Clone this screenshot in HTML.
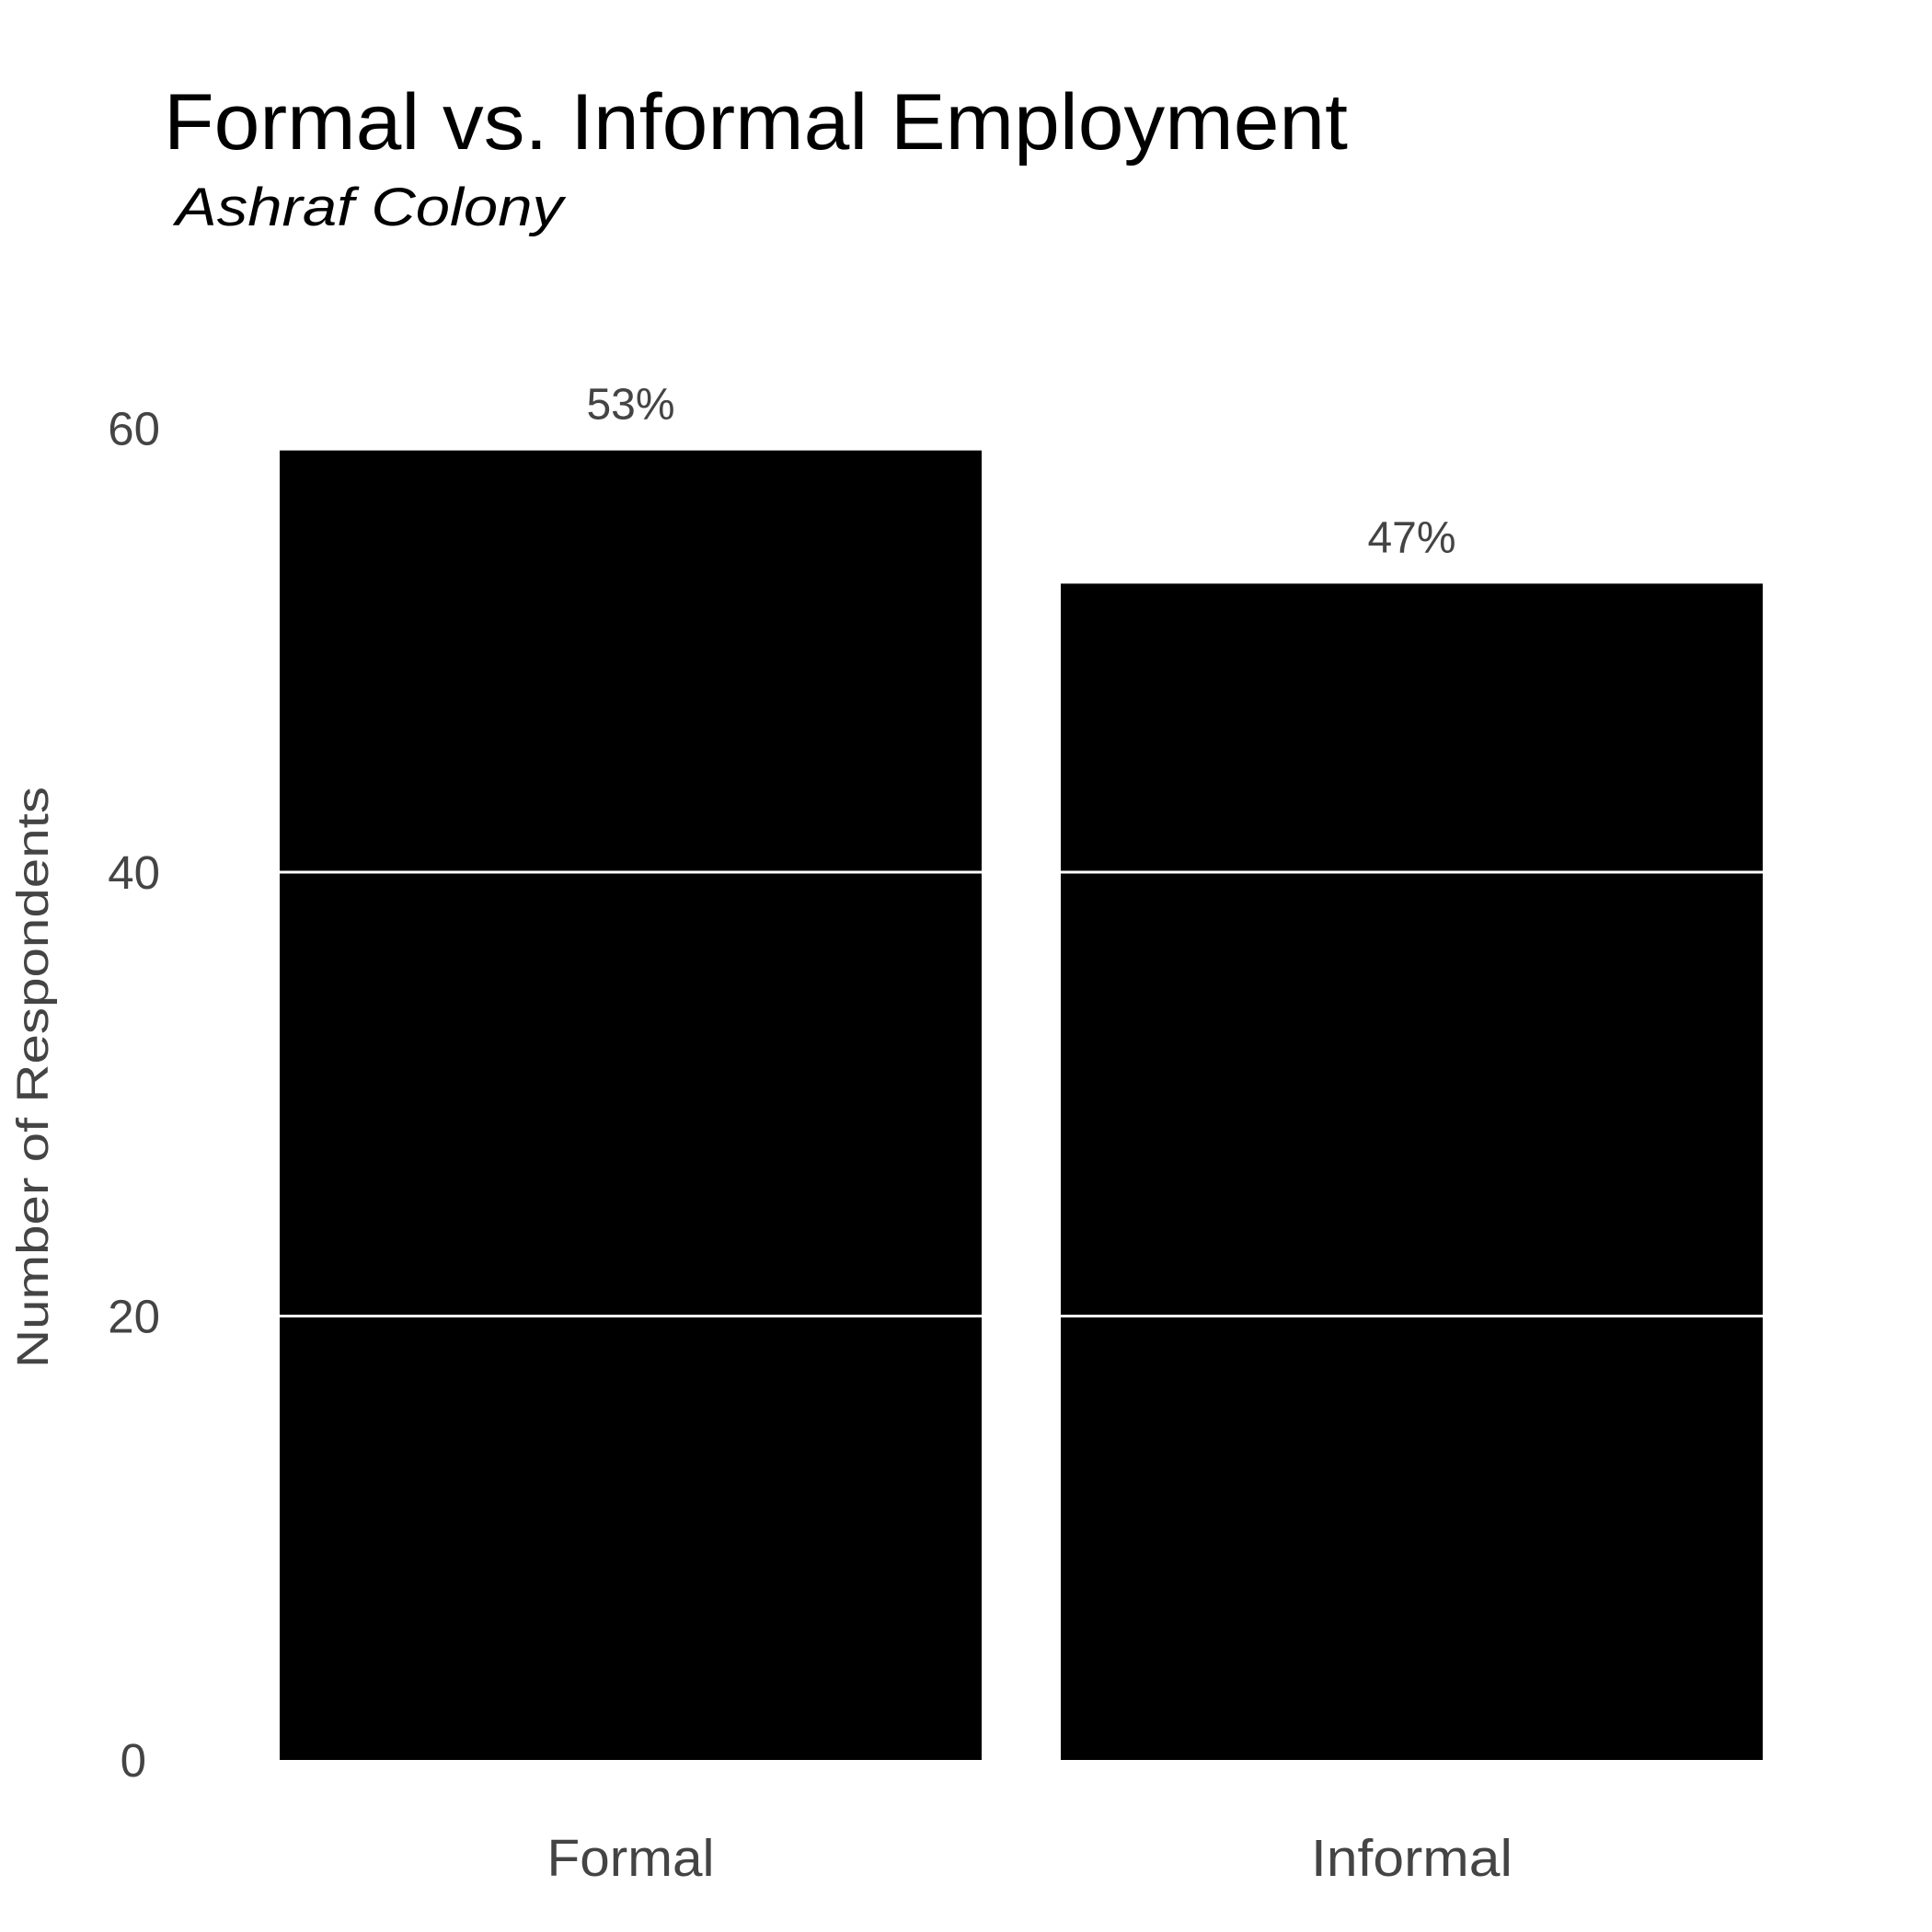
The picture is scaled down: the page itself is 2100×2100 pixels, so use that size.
<!DOCTYPE html>
<html><head><meta charset="utf-8"><style>
html,body{margin:0;padding:0;background:#fff;}
svg{display:block;font-family:"Liberation Sans",sans-serif;}
</style></head><body>
<svg id="chart" width="2100" height="2100" viewBox="0 0 2100 2100" xmlns="http://www.w3.org/2000/svg">
<rect width="2100" height="2100" fill="#fff"/>
<text x="178" y="162" font-size="86" fill="#000" textLength="1287" lengthAdjust="spacingAndGlyphs">Formal vs. Informal Employment</text>
<text x="191" y="245" font-size="58" font-style="italic" fill="#000" textLength="421" lengthAdjust="spacingAndGlyphs">Ashraf Colony</text>
<text transform="translate(52,1171) rotate(-90)" text-anchor="middle" font-size="48" fill="#444" textLength="632" lengthAdjust="spacingAndGlyphs">Number of Respondents</text>
<g id="bars"></g>
<g id="grid"></g>
<g id="labels"></g>
</svg>
<script>
const categories = ["Formal", "Informal"];
const counts = [59, 53];
const pctLabels = ["53%", "47%"];
const yTicks = [0, 20, 40, 60];

const NS = "http://www.w3.org/2000/svg";
const y0 = 1913, pxPerUnit = 24.125;
function yScale(v){ return y0 - v * pxPerUnit; }
const bandStart = 304, bandStep = 849, barW = 763;
function xScale(i){ return bandStart + i * bandStep; }
function mk(tag, attrs, parent, txt){
  const el = document.createElementNS(NS, tag);
  for (const k in attrs) el.setAttribute(k, attrs[k]);
  if (txt !== undefined) el.textContent = txt;
  parent.appendChild(el);
  return el;
}
const xLabelW = [182, 219];
const gB = document.getElementById("bars"), gG = document.getElementById("grid"), gL = document.getElementById("labels");
categories.forEach((c, i) => {
  const x = xScale(i), top = yScale(counts[i]);
  const r = mk("rect", {x: x, y: top, width: barW, height: y0 - top, fill: "#000"}, gB);
  
  
  const v = mk("text", {x: x + barW/2, y: top - 34, "text-anchor": "middle", "font-size": "48", fill: "#444"}, gL, pctLabels[i]);
  
  
  const xl = mk("text", {x: x + barW/2, y: 2039, "text-anchor": "middle", "font-size": "57", fill: "#444", textLength: xLabelW[i], lengthAdjust: "spacingAndGlyphs"}, gL, c);
  
  
});
yTicks.forEach(t => {
  const y = yScale(t);
  if (t > 0) {
    const l = mk("line", {x1: xScale(0), x2: xScale(categories.length - 1) + barW, y1: y, y2: y, stroke: "#fff", "stroke-width": "3"}, gG);
    
    
  }
  const tl = mk("text", {x: t === 0 ? 159 : 174, y: y + 18, "text-anchor": "end", "font-size": "51", fill: "#444"}, gL, String(t));
  
  
});
</script>
</body></html>
